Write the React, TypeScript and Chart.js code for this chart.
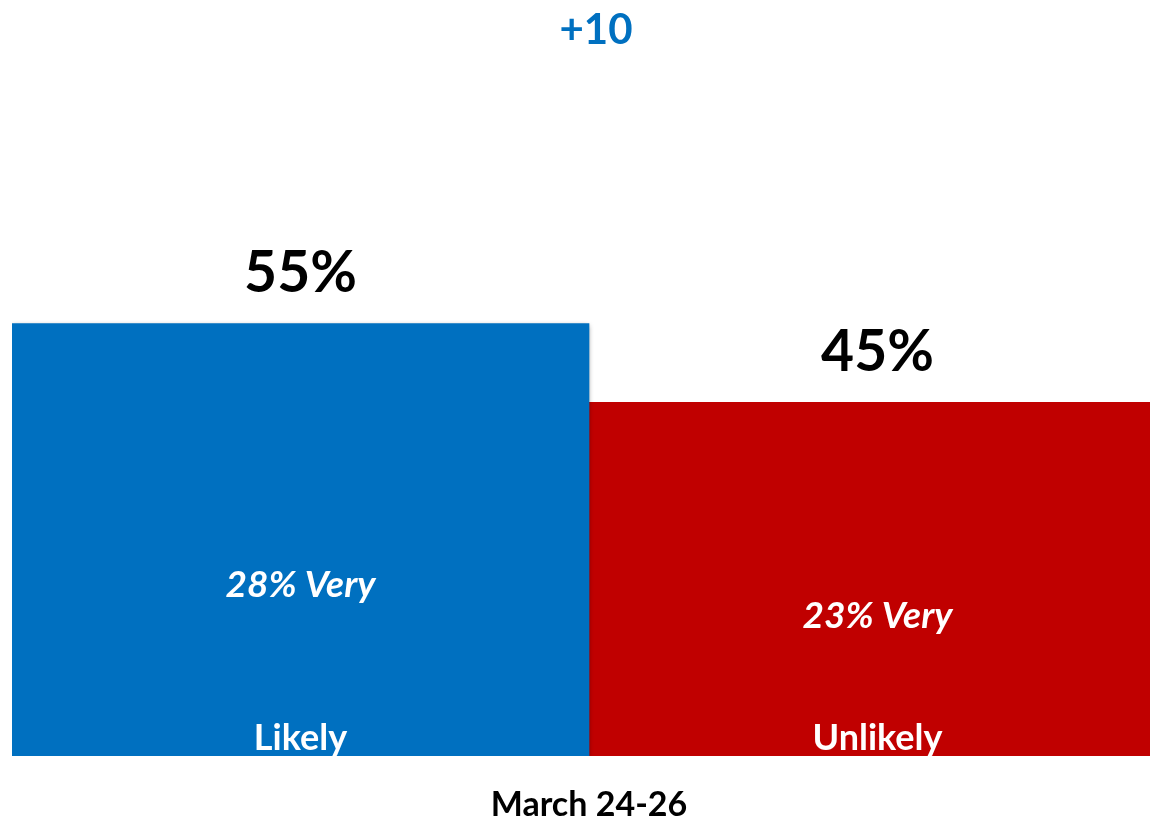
import React, { useEffect, useRef } from "react";
import { Chart, registerables } from "chart.js";

Chart.register(...registerables);

const categories = ["March 24-26"];
const seriesNames = ["Likely", "Unlikely"];
const likelyValues = [55];
const unlikelyValues = [45];
const veryLikelyValues = [28];
const veryUnlikelyValues = [23];
const marginLabel = "+10";
const seriesColors = ["#0070C0", "#C00000"];

const FONT = "Lato, 'Open Sans', sans-serif";

const labelPlugin = {
  id: "labelPlugin",
  beforeDatasetDraw(chart: any, args: any) {
    if (args.index === 0) {
      const ctx = chart.ctx;
      ctx.save();
      ctx.shadowColor = "rgba(0,0,0,0.45)";
      ctx.shadowBlur = 5;
      ctx.shadowOffsetX = 0;
      ctx.shadowOffsetY = 2;
    }
  },
  afterDatasetDraw(chart: any, args: any) {
    if (args.index === 0) chart.ctx.restore();
  },
  afterDraw(chart: any) {
    const ctx = chart.ctx;
    const area = chart.chartArea;
    const veryValues = [veryLikelyValues, veryUnlikelyValues];
    ctx.save();
    ctx.textAlign = "center";
    ctx.textBaseline = "middle";
    // margin label
    ctx.fillStyle = "#0070C0";
    ctx.font = `bold 42px ${FONT}`;
    ctx.fillText(marginLabel, (area.left + area.right) / 2 + 7, 30);
    chart.data.datasets.forEach((ds: any, di: number) => {
      const meta = chart.getDatasetMeta(di);
      meta.data.forEach((bar: any, i: number) => {
        const v = ds.data[i];
        const top = bar.y;
        const base = bar.base;
        // total above bar
        ctx.fillStyle = "#000000";
        ctx.font = `bold 57px ${FONT}`;
        ctx.fillText(`${v}%`, bar.x, top - 50);
        // very label
        ctx.fillStyle = "#FFFFFF";
        ctx.font = `italic bold 37px ${FONT}`;
        ctx.fillText(`${veryValues[di][i]}% Very`, bar.x, base - 0.395 * (base - top));
        // series name
        ctx.font = `bold 36px ${FONT}`;
        ctx.fillText(ds.label, bar.x, base - 18);
      });
    });
    ctx.restore();
  },
};

export default function App() {
  const ref = useRef<HTMLCanvasElement | null>(null);
  useEffect(() => {
    if (!ref.current) return;
    const chart = new Chart(ref.current, {
      type: "bar",
      data: {
        labels: categories,
        datasets: [
          { label: seriesNames[0], data: likelyValues, backgroundColor: seriesColors[0], borderWidth: 0 },
          { label: seriesNames[1], data: unlikelyValues, backgroundColor: seriesColors[1], borderWidth: 0 },
        ],
      },
      options: {
        responsive: false,
        animation: false,
        layout: { padding: { left: 12, right: -16, top: 48.5, bottom: -35 } },
        datasets: { bar: { categoryPercentage: 1, barPercentage: 1 } },
        plugins: { legend: { display: false }, tooltip: { enabled: false }, title: { display: false } },
        scales: {
          x: {
            grid: { display: false, drawTicks: false },
            border: { display: false },
            ticks: {
              color: "#000000",
              padding: 32,
              font: { family: FONT, size: 34, weight: "bold", lineHeight: 1 },
            },
          },
          y: { display: false, min: 0, max: 90 },
        },
      },
      plugins: [labelPlugin],
    });
    return () => chart.destroy();
  }, []);
  return (
    <div style={{ position: "absolute", left: 0, top: 0, width: 1150, height: 819, overflow: "hidden", background: "#fff" }}>
      <canvas ref={ref} width={1166} height={819} style={{ display: "block" }} />
    </div>
  );
}
